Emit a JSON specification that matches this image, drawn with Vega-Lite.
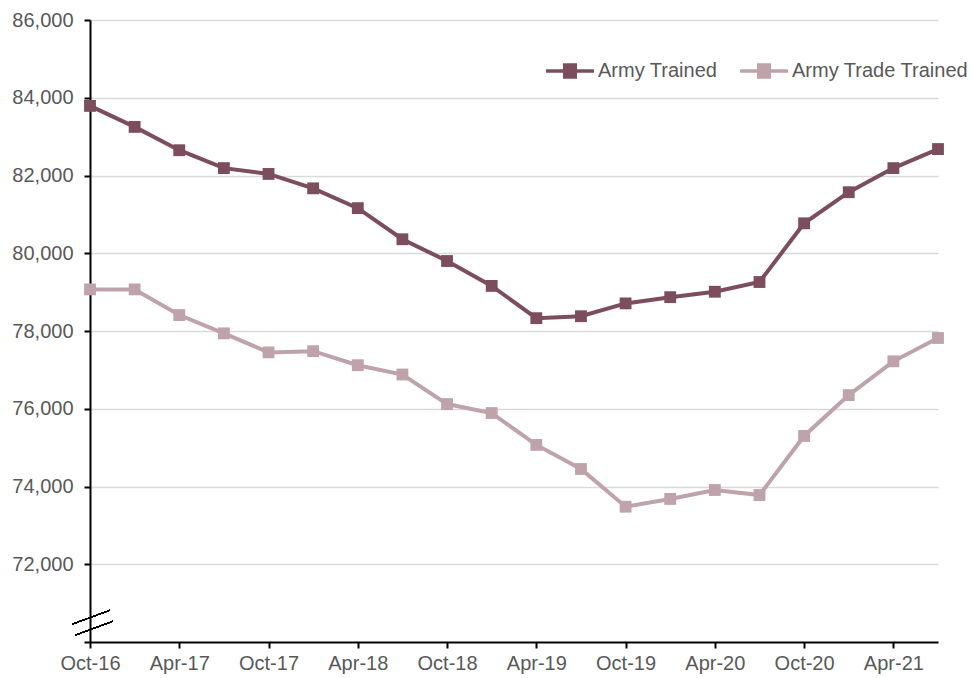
{
  "$schema": "https://vega.github.io/schema/vega-lite/v6.json",
  "width": 848,
  "height": 622,
  "autosize": {"type": "none"},
  "padding": {"left": 90, "top": 20, "right": 35, "bottom": 36},
  "config": {
    "view": {"stroke": null},
    "font": "Liberation Sans",
    "axis": {"labelFont": "Liberation Sans", "labelColor": "#595959", "labelFontSize": 20, "domainColor": "#000000", "domainWidth": 2, "tickColor": "#000000", "tickWidth": 2, "tickSize": 6, "labelOverlap": false}
  },
  "data": {
    "values": [
      {"q": "Oct-16", "s": "Army Trained", "v": 83790},
      {"q": "Jan-17", "s": "Army Trained", "v": 83250},
      {"q": "Apr-17", "s": "Army Trained", "v": 82650},
      {"q": "Jul-17", "s": "Army Trained", "v": 82190},
      {"q": "Oct-17", "s": "Army Trained", "v": 82040},
      {"q": "Jan-18", "s": "Army Trained", "v": 81670},
      {"q": "Apr-18", "s": "Army Trained", "v": 81160},
      {"q": "Jul-18", "s": "Army Trained", "v": 80360},
      {"q": "Oct-18", "s": "Army Trained", "v": 79800},
      {"q": "Jan-19", "s": "Army Trained", "v": 79160},
      {"q": "Apr-19", "s": "Army Trained", "v": 78330},
      {"q": "Jul-19", "s": "Army Trained", "v": 78380},
      {"q": "Oct-19", "s": "Army Trained", "v": 78710},
      {"q": "Jan-20", "s": "Army Trained", "v": 78870},
      {"q": "Apr-20", "s": "Army Trained", "v": 79010},
      {"q": "Jul-20", "s": "Army Trained", "v": 79260},
      {"q": "Oct-20", "s": "Army Trained", "v": 80770},
      {"q": "Jan-21", "s": "Army Trained", "v": 81570},
      {"q": "Apr-21", "s": "Army Trained", "v": 82190},
      {"q": "Jul-21", "s": "Army Trained", "v": 82680},
      {"q": "Oct-16", "s": "Army Trade Trained", "v": 79070},
      {"q": "Jan-17", "s": "Army Trade Trained", "v": 79070},
      {"q": "Apr-17", "s": "Army Trade Trained", "v": 78410},
      {"q": "Jul-17", "s": "Army Trade Trained", "v": 77940},
      {"q": "Oct-17", "s": "Army Trade Trained", "v": 77450},
      {"q": "Jan-18", "s": "Army Trade Trained", "v": 77480},
      {"q": "Apr-18", "s": "Army Trade Trained", "v": 77120},
      {"q": "Jul-18", "s": "Army Trade Trained", "v": 76880},
      {"q": "Oct-18", "s": "Army Trade Trained", "v": 76120},
      {"q": "Jan-19", "s": "Army Trade Trained", "v": 75890},
      {"q": "Apr-19", "s": "Army Trade Trained", "v": 75070},
      {"q": "Jul-19", "s": "Army Trade Trained", "v": 74450},
      {"q": "Oct-19", "s": "Army Trade Trained", "v": 73480},
      {"q": "Jan-20", "s": "Army Trade Trained", "v": 73680},
      {"q": "Apr-20", "s": "Army Trade Trained", "v": 73910},
      {"q": "Jul-20", "s": "Army Trade Trained", "v": 73780},
      {"q": "Oct-20", "s": "Army Trade Trained", "v": 75300},
      {"q": "Jan-21", "s": "Army Trade Trained", "v": 76350},
      {"q": "Apr-21", "s": "Army Trade Trained", "v": 77220},
      {"q": "Jul-21", "s": "Army Trade Trained", "v": 77820}
    ]
  },
  "encoding": {
    "x": {
      "field": "q", "type": "ordinal", "sort": null,
      "scale": {"type": "point", "padding": 0},
      "axis": {
        "title": null, "labelAngle": 0, "labelPadding": 5, "labelFontSize": 20,
        "values": ["Oct-16", "Apr-17", "Oct-17", "Apr-18", "Oct-18", "Apr-19", "Oct-19", "Apr-20", "Oct-20", "Apr-21"],
        "grid": false
      }
    },
    "y": {
      "field": "v", "type": "quantitative",
      "scale": {"domain": [70000, 86000], "zero": false, "nice": false},
      "axis": {
        "title": null, "values": [70000, 72000, 74000, 76000, 78000, 80000, 82000, 84000, 86000],
        "labelExpr": "datum.value == 70000 ? '' : format(datum.value, ',')",
        "labelPadding": 11, "labelFontSize": 20, "labelOverlap": false,
        "grid": true, "gridColor": "#d9d9d9", "gridWidth": 1.5,
        "gridOpacity": {"condition": {"test": "datum.value == 70000", "value": 0}, "value": 1}
      }
    },
    "color": {
      "field": "s", "type": "nominal",
      "scale": {"domain": ["Army Trained", "Army Trade Trained"], "range": ["#7b4d5d", "#bfa3ab"]},
      "legend": {
        "title": null, "orient": "none", "legendX": 454, "legendY": 25, "direction": "horizontal",
        "symbolType": "M-1,0H1M-0.22,-0.25H0.22V0.25H-0.22Z",
        "symbolSize": 2300, "symbolStrokeWidth": 3.5, "symbolOpacity": 1,
        "labelFontSize": 20, "labelColor": "#595959", "labelFont": "Liberation Sans", "labelLimit": 400,
        "columnPadding": 15, "labelOffset": 2
      }
    }
  },
  "layer": [
    {"mark": {"type": "line", "strokeWidth": 4}},
    {"mark": {"type": "square", "size": 140, "opacity": 1, "filled": true}},
    {
      "mark": {"type": "rule", "color": "#000000", "strokeWidth": 1, "xOffset": -18, "x2Offset": 20},
      "encoding": {
        "x": {"datum": "Oct-16"}, "x2": {"datum": "Oct-16"},
        "y": {"datum": 70457}, "y2": {"datum": 70817},
        "color": {"value": "#000000"}
      }
    },
    {
      "mark": {"type": "rule", "color": "#000000", "strokeWidth": 1, "xOffset": -15, "x2Offset": 23},
      "encoding": {
        "x": {"datum": "Oct-16"}, "x2": {"datum": "Oct-16"},
        "y": {"datum": 70174}, "y2": {"datum": 70534},
        "color": {"value": "#000000"}
      }
    }
  ]
}
